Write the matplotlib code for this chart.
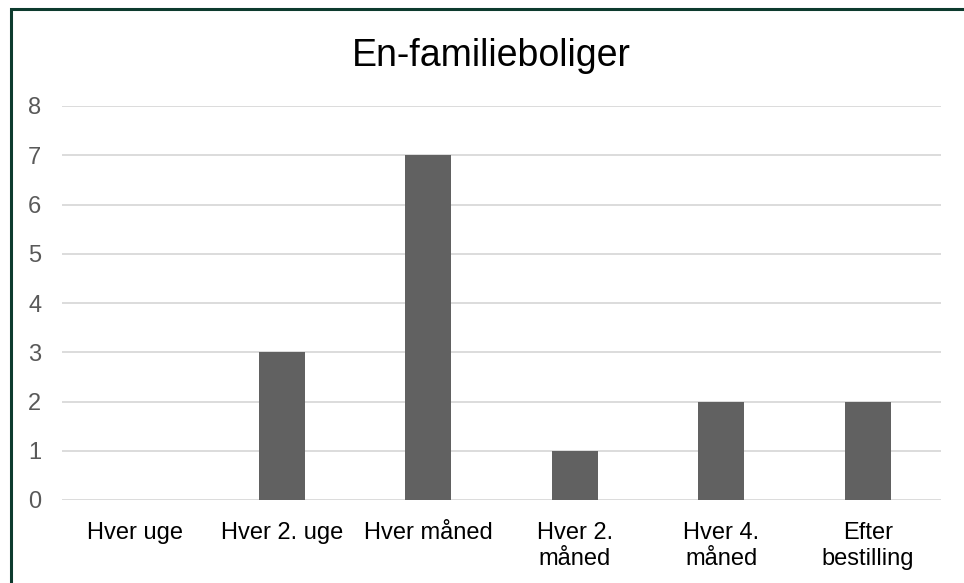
import matplotlib.pyplot as plt
from matplotlib.patches import Rectangle

categories = ["Hver uge", "Hver 2. uge", "Hver måned", "Hver 2.\nmåned", "Hver 4.\nmåned", "Efter\nbestilling"]
values = [0, 3, 7, 1, 2, 2]
yticks = [0, 1, 2, 3, 4, 5, 6, 7, 8]

plt.rcParams['font.family'] = ['Liberation Sans', 'DejaVu Sans']

W, H = 964, 583
fig = plt.figure(figsize=(W / 100, H / 100), dpi=100)

# plot area in pixels: x 62..941, y 106..500
ax = fig.add_axes([62 / W, 1 - 500 / H, (941 - 62) / W, (500 - 106) / H])
x = range(len(categories))
ax.bar(x, values, width=0.314, color="#616161", zorder=3)
ax.set_xlim(-0.5, len(categories) - 0.5)
ax.set_ylim(0, 8)
ax.set_yticks(yticks)
ax.set_yticklabels([str(v) for v in yticks], color="#595959", fontsize=17)
ax.set_xticks(list(x))
ax.set_xticklabels(categories, fontsize=17, color="#000000", linespacing=1.2)
ax.tick_params(axis="both", length=0)
ax.tick_params(axis="y", pad=15)
ax.tick_params(axis="x", pad=16)
ax.yaxis.grid(True, color="#d9d9d9", linewidth=1.3, zorder=0)
for s in ax.spines.values():
    s.set_visible(False)

fig.text(491 / W, 1 - 56 / H, "En-familieboliger", ha="center", va="center", fontsize=27, color="#000000")

# outer border (only top and left visible in the crop)
fig.patches.append(Rectangle((11 / W, -0.1), 1.2, 1 - 9.5 / H + 0.1, transform=fig.transFigure,
                             fill=False, edgecolor="#0d3b2e", linewidth=2.2))

fig.savefig("out.png", dpi=100)
